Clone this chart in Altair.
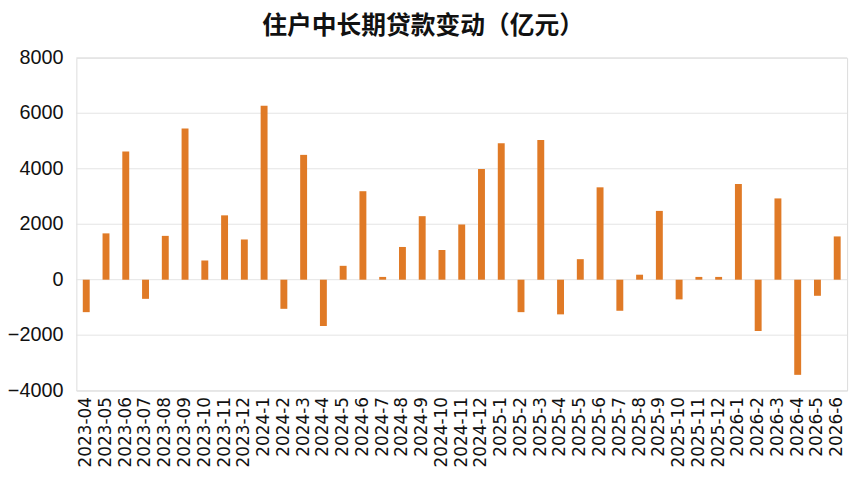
import altair as alt
import pandas as pd

months = ["2023-04", "2023-05", "2023-06", "2023-07", "2023-08", "2023-09",
          "2023-10", "2023-11", "2023-12",
          "2024-1", "2024-2", "2024-3", "2024-4", "2024-5", "2024-6",
          "2024-7", "2024-8", "2024-9", "2024-10", "2024-11", "2024-12",
          "2025-1", "2025-2", "2025-3", "2025-4", "2025-5", "2025-6",
          "2025-7", "2025-8", "2025-9", "2025-10", "2025-11", "2025-12",
          "2026-1", "2026-2", "2026-3", "2026-4", "2026-5", "2026-6"]
values = [-1170, 1670, 4620, -690, 1580, 5450, 690, 2320, 1450,
          6270, -1050, 4500, -1670, 500, 3190, 100, 1180, 2290, 1070, 1990, 3990,
          4920, -1170, 5040, -1250, 740, 3330, -1120, 180, 2480, -710, 100, 100,
          3450, -1850, 2930, -3430, -580, 1560]
y_ticks = [-4000, -2000, 0, 2000, 4000, 6000, 8000]
title_text = "住户中长期贷款变动（亿元）"

df = pd.DataFrame({"month": months, "value": values})
ticks_df = pd.DataFrame({"tick": y_ticks,
                         "label": [str(t).replace("-", "\u2212") for t in y_ticks]})

yscale = alt.Scale(domain=[-4000, 8000], nice=False)

grid = alt.Chart(ticks_df).mark_rule(color="#e4e4e4", strokeWidth=1).encode(
    y=alt.Y("tick:Q", scale=yscale, axis=None),
    x=alt.value(0), x2=alt.value(778),
)

ylabels = alt.Chart(ticks_df).mark_text(
    align="right", baseline="middle", font="Liberation Sans", fontSize=20,
    color="#111111",
).encode(
    y=alt.Y("tick:Q", scale=yscale, axis=None),
    x=alt.value(-13),
    text="label:N",
)

bars = alt.Chart(df).mark_bar(color="#E07A26").encode(
    x=alt.X("month:N", sort=months, title=None,
            scale=alt.Scale(paddingInner=0.65, paddingOuter=0.325),
            axis=alt.Axis(labelAngle=-90, labelFont="DejaVu Sans", labelFontSize=17,
                          labelColor="#111111", ticks=False, domain=False,
                          labelPadding=6, grid=False)),
    y=alt.Y("value:Q", title=None, scale=yscale, axis=None),
)

chart = alt.layer(grid, ylabels, bars).properties(
    width=778, height=336,
    autosize=alt.AutoSizeParams(type="none"),
    padding={"left": 69, "top": 48, "right": 10, "bottom": 95},
    title=alt.TitleParams(title_text, font="Noto Sans CJK SC", fontSize=25,
                          fontWeight="bold", color="#111111", anchor="middle",
                          dx=-39, offset=9),
).configure_view(stroke=None).configure(background="white")

chart.save("out.html", embed_options={"renderer": "svg", "actions": False})
